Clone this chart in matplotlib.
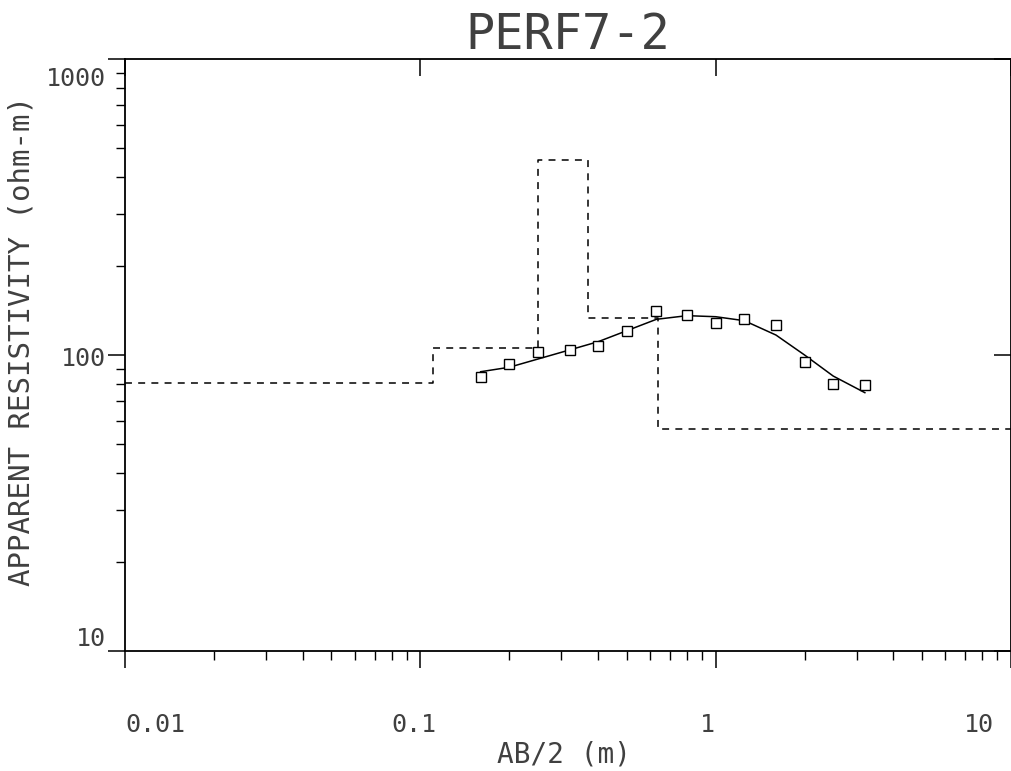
import numpy as np
import matplotlib
matplotlib.use("Agg")
import matplotlib.pyplot as plt
import matplotlib.ticker as mticker
import matplotlib.transforms as mtransforms

plt.rcParams['font.family'] = 'DejaVu Sans Mono'
plt.rcParams['lines.scale_dashes'] = False

# measured apparent resistivity (squares)
ab2 = [0.16, 0.2, 0.25, 0.32, 0.4, 0.5, 0.63, 0.8, 1.0, 1.25, 1.6, 2.0, 2.5, 3.2]
rho_obs = [84.1, 93.2, 102.1, 104.0, 107.3, 120.8, 140.8, 136.5, 128.5, 132.6,
           126.3, 94.9, 79.8, 79.1]
# computed model curve
rho_fit = [87.8, 90.9, 96.9, 104.0, 110.9, 120.8, 132.0, 135.8, 134.7, 130.6,
           116.8, 100.0, 84.9, 74.6]
# layered model (step) - layer boundaries and resistivities
layer_x = [0.01, 0.11, 0.25, 0.37, 0.64, 10.0]
layer_rho = [80.4, 105.6, 456.0, 133.4, 56.2]

text_col = '#404040'

W, H = 1012, 771
fig = plt.figure(figsize=(W / 100, H / 100), dpi=100)
ax = fig.add_axes([125 / W, (H - 651) / H, (1011 - 125) / W, (651 - 59) / H])

ax.set_xscale('log')
ax.set_yscale('log')
ax.set_xlim(0.01, 10)
ax.set_ylim(10, 1000)

# step model
step_y = layer_rho + [layer_rho[-1]]
ax.step(layer_x, step_y, where='post', color='black', lw=1.1,
        linestyle=(0, (5, 4.5)))
# fitted curve
ax.plot(ab2, rho_fit, color='black', lw=1.1)
# observed data
ax.plot(ab2, rho_obs, linestyle='none', marker='s', markersize=7,
        markerfacecolor='white', markeredgecolor='black', markeredgewidth=1.0)

for s in ax.spines.values():
    s.set_linewidth(1.3)
    s.set_color('black')

# bottom/left ticks (outward)
ax.xaxis.set_major_locator(mticker.FixedLocator([0.01, 0.1, 1, 10]))
ax.xaxis.set_minor_locator(mticker.LogLocator(base=10, subs=np.arange(2, 10)))
ax.yaxis.set_major_locator(mticker.FixedLocator([10, 100, 1000]))
ax.yaxis.set_minor_locator(mticker.LogLocator(base=10, subs=np.arange(2, 10)))
ax.xaxis.set_minor_formatter(mticker.NullFormatter())
ax.yaxis.set_minor_formatter(mticker.NullFormatter())

ax.set_xticklabels(['0.01', '0.1', '1', '10'])
ax.set_yticklabels(['10', '100', '1000'])

ax.tick_params(axis='both', which='major', direction='out', length=12.5, width=1.1,
               colors='black', labelcolor=text_col, labelsize=18)
ax.tick_params(axis='both', which='minor', direction='out', length=6.5, width=1.0,
               colors='black')
ax.tick_params(axis='x', which='major', pad=32)
ax.tick_params(axis='y', which='major', pad=1)

# adjust individual tick label placement like the plotter output
xl = ax.get_xticklabels()
shifts_x = [(0, 'left'), (-6, 'center'), (-8, 'center'), (-17, 'right')]
for lab, (dx, ha) in zip(xl, shifts_x):
    lab.set_ha(ha)
    lab.set_transform(lab.get_transform() + mtransforms.ScaledTranslation(dx / 100, 0, fig.dpi_scale_trans))
yl = ax.get_yticklabels()
shifts_y = [(0, 'bottom'), (-4, 'center'), (-8, 'top')]
for lab, (dy, va) in zip(yl, shifts_y):
    lab.set_va(va)
    lab.set_transform(lab.get_transform() + mtransforms.ScaledTranslation(0, dy / 100, fig.dpi_scale_trans))

# top/right ticks (inward, majors only)
ax2 = fig.add_axes(ax.get_position(), frameon=False)
ax2.set_xscale('log')
ax2.set_yscale('log')
ax2.set_xlim(ax.get_xlim())
ax2.set_ylim(ax.get_ylim())
ax2.xaxis.set_major_locator(mticker.FixedLocator([0.01, 0.1, 1, 10]))
ax2.yaxis.set_major_locator(mticker.FixedLocator([10, 100, 1000]))
ax2.xaxis.set_minor_locator(mticker.NullLocator())
ax2.yaxis.set_minor_locator(mticker.NullLocator())
ax2.tick_params(which='major', direction='in', length=12.5, width=1.1, colors='black',
                bottom=False, left=False, top=True, right=True,
                labelbottom=False, labelleft=False, labeltop=False, labelright=False)
ax2.patch.set_visible(False)

fig.text(568 / W, 1 - 35 / H, 'PERF7-2', ha='center', va='center',
         fontsize=35, color=text_col)
fig.text(22 / W, 1 - 341 / H, 'APPARENT RESISTIVITY (ohm-m)', rotation=90,
         ha='center', va='center', fontsize=21, color=text_col)
fig.text(564 / W, 1 - 754 / H, 'AB/2 (m)', ha='center', va='center',
         fontsize=20, color=text_col)

fig.savefig('out.png', dpi=100, facecolor='white')
